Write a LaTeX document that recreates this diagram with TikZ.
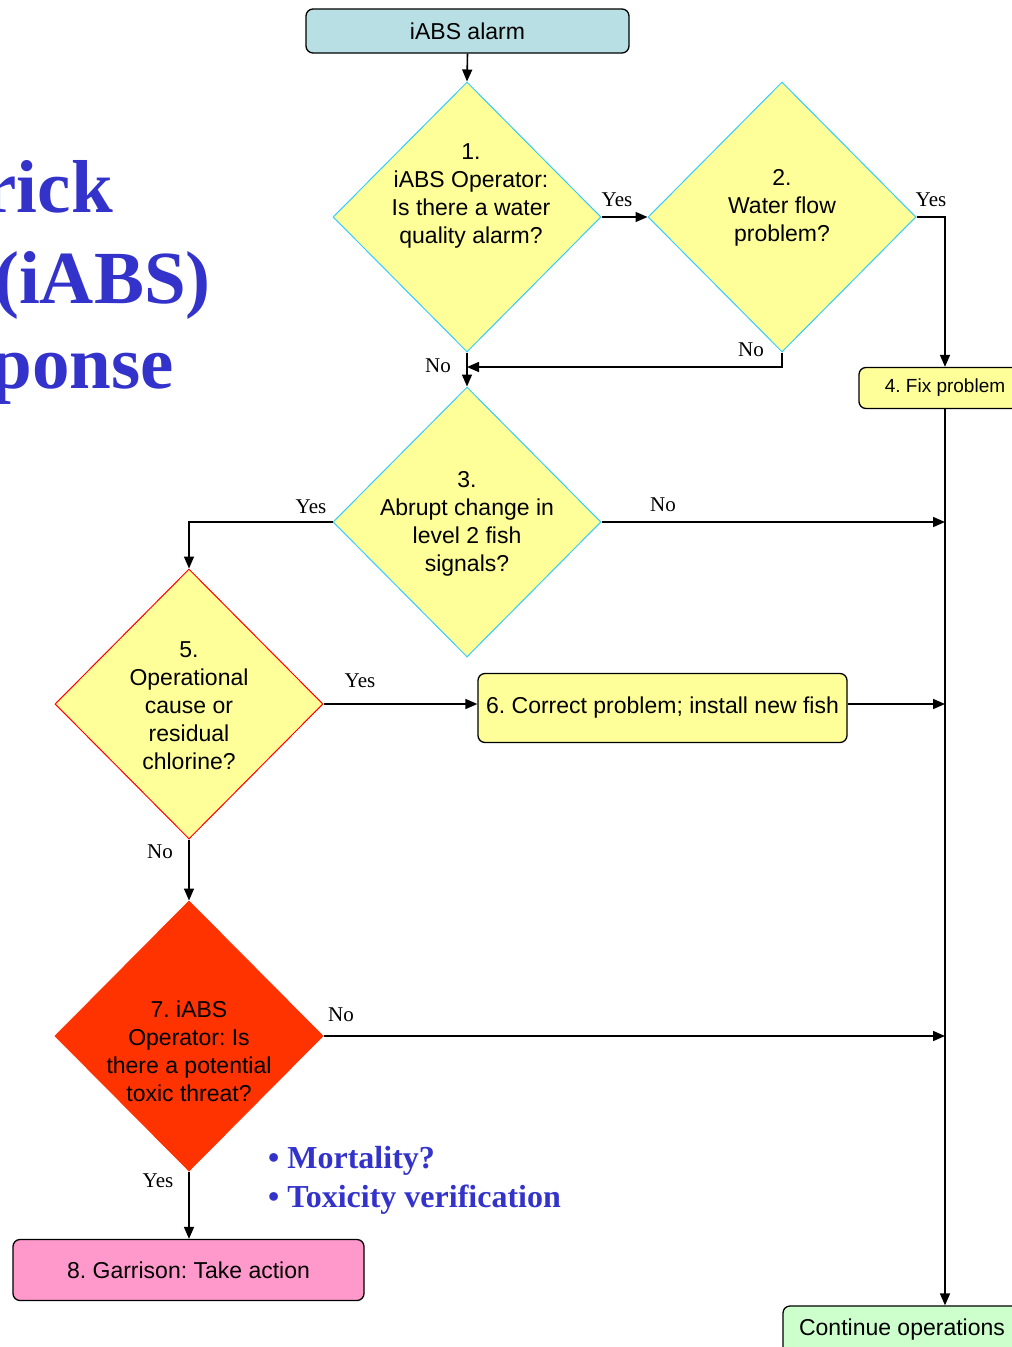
\documentclass[tikz,border=0pt]{standalone}
\usepackage{fontspec}
\setmainfont{Liberation Serif}
\newfontfamily\boxfont{Liberation Sans}
\usetikzlibrary{shapes.geometric,arrows.meta}
\definecolor{alarmblue}{RGB}{184,224,228}
\definecolor{qyellow}{RGB}{255,255,153}
\definecolor{qedge}{RGB}{51,204,255}
\definecolor{threat}{RGB}{255,51,0}
\definecolor{actpink}{RGB}{255,153,204}
\definecolor{gogreen}{RGB}{204,255,204}
\definecolor{titleblue}{RGB}{51,51,204}
\frenchspacing

\tikzset{
  dia/.style={diamond, minimum width=268pt, minimum height=270pt, inner sep=0pt, fill=qyellow, draw=qedge, line width=1pt},
  qtext/.style={font=\boxfont\fontsize{23}{28}\selectfont, align=center, inner sep=0pt},
  box/.style={draw, rounded corners=7pt, line width=1.3pt, font=\boxfont\fontsize{23}{26}\selectfont, inner sep=0pt},
  arr/.style={-{Triangle[length=12pt,width=10pt]}, line width=1.6pt},
  ans/.style={font=\fontsize{21}{24}\selectfont, inner sep=0pt},
  title/.style={font=\bfseries\fontsize{75}{88}\selectfont, text=titleblue, inner sep=0pt},
  bul/.style={font=\bfseries\fontsize{32}{39}\selectfont, text=titleblue, inner sep=0pt}
}

\begin{document}
\begin{tikzpicture}[x=1pt, y=-1pt]
  \useasboundingbox (0,0) rectangle (1012,1347);
  \clip (0,0) rectangle (1012,1347);

  % title, cut at the left edge
  \node[title, anchor=base east] (tt1) at (113,212) {rick};
  \node[title, anchor=base east] (tt2) at (211,303) {(iABS)};
  \node[title, anchor=base east] (tt3) at (174,388) {ponse};

  % boxes
  \node[box, fill=alarmblue, minimum width=323pt, minimum height=44pt] (alarm) at (467.5,31) {iABS alarm};
  \node[box, fill=qyellow, minimum width=172pt, minimum height=41pt, font=\boxfont\fontsize{19}{22}\selectfont] (fix) at (945,388) {4. Fix problem};
  \node[box, fill=qyellow, minimum width=369pt, minimum height=69pt] (b6) at (662.5,708) {6. Correct problem; install new fish};
  \node[box, fill=actpink, minimum width=351pt, minimum height=61pt] (b8) at (188.5,1270) {8. Garrison: Take action};
  \node[box, fill=gogreen, minimum width=238pt, minimum height=48pt] (cont) at (902,1330) {Continue operations};

  % decisions
  \node[dia] (d1) at (467,217) {};
  \node[qtext] (q1) at ([xshift=4pt,yshift=21pt]d1.center) {1.\\iABS Operator:\\Is there a water\\quality alarm?};
  \node[dia] (d2) at (782,217) {};
  \node[qtext] (q2) at ([yshift=9pt]d2.center) {2.\\Water flow\\problem?};
  \node[dia] (d3) at (467,522) {};
  \node[qtext] (q3) at ([yshift=-2pt]d3.center) {3.\\Abrupt change in\\level 2 fish\\signals?};
  \node[dia, draw=red] (d5) at (189,704) {};
  \node[qtext] (q5) at ([yshift=-2pt]d5.center) {5.\\Operational\\cause or\\residual\\chlorine?};
  \node[dia, fill=threat, draw=threat] (d7) at (189,1036) {};
  \node[qtext] (q7) at ([yshift=-15pt]d7.center) {7. iABS\\Operator: Is\\there a potential\\toxic threat?};

  \coordinate (j1) at (467,367);

  % connectors
  \draw[arr] (alarm.south) -- (d1.north);
  \draw[arr] (d1.east) -- (d2.west);
  \draw[arr] (d2.east) -| (fix.north);
  \draw[arr] (d2.south) |- (j1);
  \draw[arr] (d1.south) -- (d3.north);
  \draw[arr] (d3.west) -| (d5.north);
  \draw[arr] (d3.east) -- (d3.east -| fix.south);
  \draw[arr] (d5.east) -- (d5.east -| b6.west);
  \draw[arr] (d5.east -| b6.east) -- (d5.east -| fix.south);
  \draw[arr] (d5.south) -- (d7.north);
  \draw[arr] (d7.east) -- (d7.east -| fix.south);
  \draw[arr] (d7.south) -- (d7.south |- b8.north);
  \draw[arr] (fix.south) -- (fix.south |- cont.north);

  % answers
  \node[ans] (y1) at (617,200) {Yes};
  \node[ans] (y2) at (931,200) {Yes};
  \node[ans] (n2) at (751,350) {No};
  \node[ans] (n1) at (438,366) {No};
  \node[ans] (y3) at (311,507) {Yes};
  \node[ans] (n3) at (663,505) {No};
  \node[ans] (y5) at (360,681) {Yes};
  \node[ans] (n5) at (160,852) {No};
  \node[ans] (n7) at (341,1015) {No};
  \node[ans] (y7) at (158,1181) {Yes};

  % notes
  \node[bul, anchor=base west] (m1) at (268,1168) {\textbullet\ Mortality?};
  \node[bul, anchor=base west] (m2) at (268,1207) {\textbullet\ Toxicity verification};
\end{tikzpicture}
\end{document}
